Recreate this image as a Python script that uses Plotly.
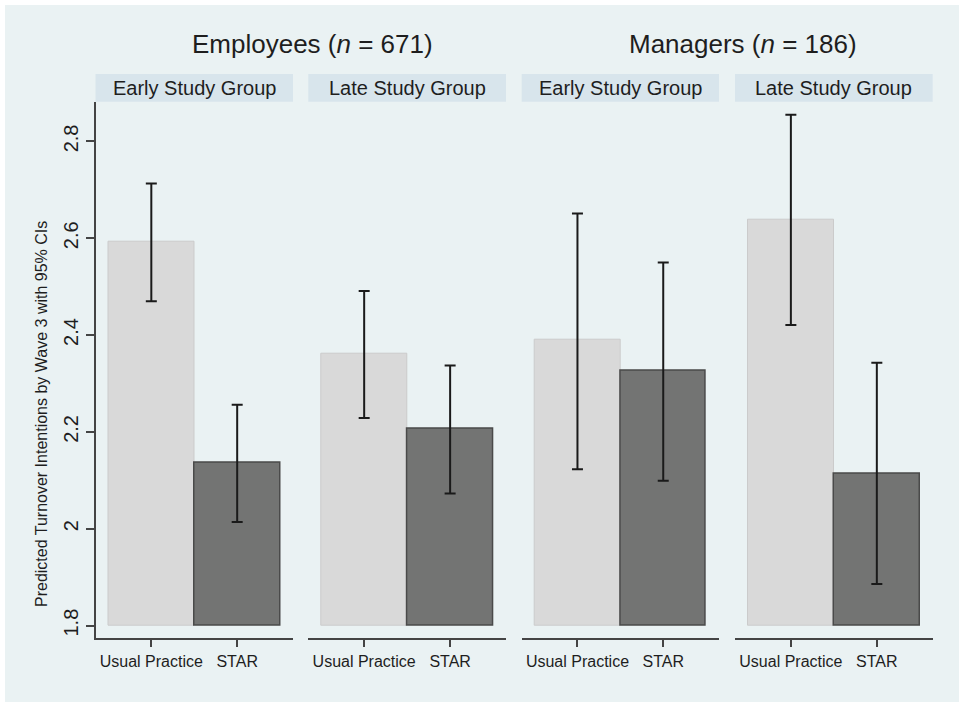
import plotly.graph_objects as go

# ---- data ----
groups = ["Early Study Group", "Late Study Group", "Early Study Group", "Late Study Group"]
conditions = ["Usual Practice", "STAR"]
up_mean = [2.592, 2.361, 2.390, 2.639]
up_lo = [2.470, 2.229, 2.123, 2.421]
up_hi = [2.713, 2.491, 2.651, 2.855]
star_mean = [2.136, 2.206, 2.326, 2.114]
star_lo = [2.014, 2.073, 2.099, 1.886]
star_hi = [2.256, 2.337, 2.550, 2.343]
y_ticks = [1.8, 2.0, 2.2, 2.4, 2.6, 2.8]
y_tick_text = ["1.8", "2", "2.2", "2.4", "2.6", "2.8"]
titles = ["Employees (<i>n</i> = 671)", "Managers (<i>n</i> = 186)"]
y_title = "Predicted Turnover Intentions by Wave 3 with 95% CIs"

W, H = 959, 702
BG = "#eaf2f3"
STRIP = "#d8e5ec"
TXT = "#1e1e1e"
FONT = "Liberation Sans, Arial, sans-serif"

panels_px = [(95.5, 293.0), (308.3, 506.0), (521.7, 719.0), (735.0, 932.7)]
y_top_px, y_bot_px = 101.7, 637.7
ydom = [1 - y_bot_px / H, 1 - y_top_px / H]

fig = go.Figure()
base = 1.8
for i in range(4):
    ax = "" if i == 0 else str(i + 1)
    xr, yr = "x" + ax, "y" + ax
    fig.add_trace(go.Bar(x=[0], y=[up_mean[i] - base], base=base, width=1,
                         marker=dict(color="#d9d9d9", line=dict(color="#cbcbcb", width=1)),
                         xaxis=xr, yaxis=yr, showlegend=False, hoverinfo="skip"))
    fig.add_trace(go.Bar(x=[1], y=[star_mean[i] - base], base=base, width=1,
                         marker=dict(color="#737473", line=dict(color="#4a4a4a", width=1.5)),
                         xaxis=xr, yaxis=yr, showlegend=False, hoverinfo="skip"))
    means = [up_mean[i], star_mean[i]]
    his = [up_hi[i], star_hi[i]]
    los = [up_lo[i], star_lo[i]]
    fig.add_trace(go.Scatter(
        x=[0, 1], y=means, mode="markers",
        marker=dict(size=1, color="rgba(0,0,0,0)"),
        error_y=dict(type="data", symmetric=False,
                     array=[h - m for h, m in zip(his, means)],
                     arrayminus=[m - l for m, l in zip(means, los)],
                     color="#1a1a1a", thickness=2, width=5.5),
        xaxis=xr, yaxis=yr, showlegend=False, hoverinfo="skip"))

    x0, x1 = panels_px[i]
    fig.layout["xaxis" + ax] = dict(
        domain=[x0 / W, x1 / W], anchor=yr, range=[-0.65, 1.65],
        tickmode="array", tickvals=[0, 1], ticktext=conditions,
        ticks="outside", ticklen=8, tickwidth=1.5, tickcolor="#444",
        showline=True, linecolor="#444", linewidth=1.5,
        showgrid=False, zeroline=False, fixedrange=True,
        tickfont=dict(family=FONT, size=16, color=TXT))
    ydict = dict(domain=ydom, anchor=xr, range=[1.775, 2.882],
                 tickmode="array", tickvals=y_ticks, ticktext=y_tick_text,
                 showgrid=True, gridcolor=BG, gridwidth=2, zeroline=False,
                 fixedrange=True)
    if i == 0:
        ydict.update(ticks="outside", ticklen=8, tickwidth=1.5, tickcolor="#444",
                     showline=True, linecolor="#444", linewidth=1.5,
                     tickangle=-90, ticklabelstandoff=0,
                     tickfont=dict(family=FONT, size=20, color=TXT))
    else:
        ydict.update(showticklabels=False, ticks="", showline=False)
    fig.layout["yaxis" + ax] = ydict

shapes = [dict(type="rect", xref="paper", yref="paper", x0=5 / W, x1=1, y0=0, y1=1 - 5 / H,
               fillcolor=BG, line=dict(width=0), layer="below")]
annotations = []
for i, (x0, x1) in enumerate(panels_px):
    shapes.append(dict(type="rect", xref="paper", yref="paper",
                       x0=x0 / W, x1=x1 / W, y0=1 - 101.7 / H, y1=1 - 74 / H,
                       fillcolor=STRIP, line=dict(width=0)))
    annotations.append(dict(text=groups[i], xref="paper", yref="paper",
                            x=(x0 + x1) / 2 / W, y=1 - 88 / H, showarrow=False,
                            xanchor="center", yanchor="middle",
                            font=dict(family=FONT, size=20, color=TXT)))
for t, cx in zip(titles, [312.5, 742.5]):
    annotations.append(dict(text=t, xref="paper", yref="paper", x=cx / W, y=1 - 44 / H,
                            showarrow=False, xanchor="center", yanchor="middle",
                            font=dict(family=FONT, size=26, color=TXT)))
annotations.append(dict(text=y_title, xref="paper", yref="paper", x=41 / W,
                        y=1 - 414 / H, showarrow=False, textangle=-90,
                        xanchor="center", yanchor="middle",
                        font=dict(family=FONT, size=16, color=TXT)))

fig.update_layout(width=W, height=H, margin=dict(l=0, r=0, t=0, b=0),
                  paper_bgcolor="white", plot_bgcolor="white",
                  shapes=shapes, annotations=annotations, bargap=0,
                  showlegend=False)
fig.write_html("out.html", config={"displayModeBar": False},
               post_script="document.body.style.margin='0';document.body.style.overflow='hidden';")
